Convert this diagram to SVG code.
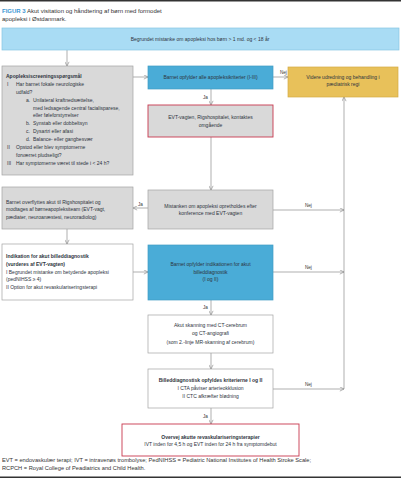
<svg xmlns="http://www.w3.org/2000/svg" width="401" height="480" viewBox="0 0 401 480">
<defs>
<marker id="ah" viewBox="0 0 6 6" refX="5.5" refY="3" markerWidth="5" markerHeight="5" orient="auto" markerUnits="userSpaceOnUse">
<path d="M0.5,0.5 L5.5,3 L0.5,5.5" fill="none" stroke="#8c8c8c" stroke-width="0.8"/>
</marker>
<style>
text{font-family:"Liberation Sans",Arial,sans-serif;fill:#2e3440;}
.t{font-size:5px;}
.b{font-weight:bold;}
.m{text-anchor:middle;}
.cap{font-size:6px;fill:#333;}
.fn{font-size:5.7px;fill:#333;}
.grey{fill:#d9d9d9;stroke:#a3a3a3;stroke-width:0.7;}
.blue{fill:#4aacd7;stroke:#3f9cc4;stroke-width:0.7;}
.lblue{fill:#a9dcf4;stroke:#86c6e3;stroke-width:0.7;}
.yel{fill:#e8c15a;stroke:#d3ab45;stroke-width:0.7;}
.redg{fill:#d9d9d9;stroke:#c8384e;stroke-width:0.9;}
.redw{fill:#ffffff;stroke:#c8384e;stroke-width:0.9;}
.wht{fill:#ffffff;stroke:#a3a3a3;stroke-width:0.7;}
.c{fill:none;stroke:#8c8c8c;stroke-width:0.7;}
.a{marker-end:url(#ah);}
.lab{font-size:4.6px;fill:#333;}
</style>
</defs>
<rect x="0" y="0" width="401" height="480" fill="#ffffff"/>
<line x1="0" y1="0.8" x2="401" y2="0.8" stroke="#333" stroke-width="1.6"/>
<line x1="0" y1="477.2" x2="401" y2="477.2" stroke="#333" stroke-width="1.6"/>
<text class="cap" x="2" y="13"><tspan class="b" style="fill:#3a96d3">FIGUR 3</tspan> Akut visitation og håndtering af børn med formodet</text>
<text class="cap" x="2" y="21">apopleksi i Østdanmark.</text>

<g id="connectors">
<line class="c a" x1="67" y1="50" x2="67" y2="66"/>
<line class="c a" x1="133" y1="77" x2="148" y2="77"/>
<line class="c a" x1="273" y1="77" x2="288" y2="77"/>
<text class="lab" x="280" y="74">Nej</text>
<line class="c a" x1="211" y1="89" x2="211" y2="105"/>
<text class="lab" x="203" y="99">Ja</text>
<line class="c a" x1="211" y1="137" x2="211" y2="190"/>
<line class="c a" x1="148" y1="208" x2="133" y2="208"/>
<text class="lab" x="138" y="206">Ja</text>
<line class="c a" x1="273" y1="210" x2="344" y2="210"/>
<text class="lab" x="305" y="207">Nej</text>
<line class="c a" x1="67" y1="229" x2="67" y2="244"/>
<line class="c a" x1="133" y1="272" x2="148" y2="272"/>
<line class="c a" x1="273" y1="272" x2="344" y2="272"/>
<text class="lab" x="305" y="269">Nej</text>
<line class="c a" x1="211" y1="300" x2="211" y2="315"/>
<text class="lab" x="203" y="309">Ja</text>
<line class="c a" x1="211" y1="353" x2="211" y2="369"/>
<line class="c a" x1="273" y1="389" x2="344" y2="389"/>
<text class="lab" x="305" y="386">Nej</text>
<line class="c a" x1="344" y1="389" x2="344" y2="97"/>
<line class="c a" x1="211" y1="408" x2="211" y2="424"/>
<text class="lab" x="203" y="418">Ja</text>
</g>

<g id="start">
<rect class="lblue" x="2" y="28" width="397" height="22"/>
<text class="t m" x="200" y="40.8">Begrundet mistanke om apopleksi hos børn &gt; 1 md. og &lt; 18 år</text>
</g>

<g id="screening">
<rect class="grey" x="2" y="66" width="131" height="109"/>
<text class="t b" x="6" y="77.8">Apopleksiscreeningsspørgsmål</text>
<text class="t" x="7" y="86">I</text><text class="t" x="16" y="86">Har barnet fokale neurologiske</text>
<text class="t" x="16" y="94">udfald?</text>
<text class="t" x="26" y="101.8">a.</text><text class="t" x="33" y="101.8">Unilateral kraftnedsættelse,</text>
<text class="t" x="33" y="109.5">med ledsagende central facialisparese,</text>
<text class="t" x="33" y="117">eller føleforstyrrelser</text>
<text class="t" x="26" y="125">b.</text><text class="t" x="33" y="125">Synstab eller dobbeltsyn</text>
<text class="t" x="26" y="133">c.</text><text class="t" x="33" y="133">Dysartri eller afasi</text>
<text class="t" x="26" y="141">d.</text><text class="t" x="33" y="141">Balance- eller gangbesvær</text>
<text class="t" x="7" y="149">II</text><text class="t" x="16" y="149">Opstod eller blev symptomerne</text>
<text class="t" x="16" y="157">forværret pludseligt?</text>
<text class="t" x="7" y="164.5">III</text><text class="t" x="16" y="164.5">Har symptomerne været til stede i &lt; 24 h?</text>
</g>

<g id="criteria">
<rect class="blue" x="148" y="66" width="125" height="23"/>
<text class="t m" x="210.5" y="79.3">Barnet opfylder alle apopleksikriterier (I-III)</text>
</g>

<g id="further">
<rect class="yel" x="288" y="67" width="110" height="30"/>
<text class="t m" x="343" y="79">Videre udredning og behandling i</text>
<text class="t m" x="343" y="86">pædiatrisk regi</text>
</g>

<g id="evt">
<rect class="redg" x="148" y="105" width="125" height="32"/>
<text class="t m" x="210.5" y="119">EVT-vagten, Rigshospitalet, kontaktes</text>
<text class="t m" x="210.5" y="126.5">omgående</text>
</g>

<g id="suspicion">
<rect class="grey" x="148" y="190" width="125" height="39"/>
<text class="t m" x="210.5" y="207.8">Mistanken om apopleksi opretholdes efter</text>
<text class="t m" x="210.5" y="215">konference med EVT-vagten</text>
</g>

<g id="transfer">
<rect class="grey" x="2" y="187" width="131" height="42"/>
<text class="t" x="6" y="203.8">Barnet overflyttes akut til Rigshospitalet og</text>
<text class="t" x="6" y="211">modtages af børneapopleksiteam (EVT-vagt,</text>
<text class="t" x="6" y="218.8">pædiater, neuroanæstesi, neuroradiolog)</text>
</g>

<g id="indication">
<rect class="wht" x="2" y="244" width="131" height="56"/>
<text class="t b" x="6" y="257.8">Indikation for akut billeddiagnostik</text>
<text class="t b" x="6" y="265.8">(vurderes af EVT-vagten)</text>
<text class="t" x="6" y="274">I Begrundet mistanke om betydende apopleksi</text>
<text class="t" x="6" y="281">(pedNIHSS ≥ 4)</text>
<text class="t" x="6" y="288.8">II Option for akut revaskulariseringsterapi</text>
</g>

<g id="meets">
<rect class="blue" x="148" y="245" width="125" height="55"/>
<text class="t m" x="210.5" y="265.8">Barnet opfylder indikationen for akut</text>
<text class="t m" x="210.5" y="273.5">billeddiagnostik</text>
<text class="t m" x="210.5" y="281.3">(I og II)</text>
</g>

<g id="scan">
<rect class="wht" x="148" y="315" width="125" height="38"/>
<text class="t m" x="210.5" y="326.8">Akut skanning med CT-cerebrum</text>
<text class="t m" x="210.5" y="334.8">og CT-angiografi</text>
<text class="t m" x="210.5" y="343.5">(som 2.-linje MR-skanning af cerebrum)</text>
</g>

<g id="imaging">
<rect class="wht" x="148" y="369" width="125" height="39"/>
<text class="t m b" x="210.5" y="381.8">Billeddiagnostisk opfyldes kriterierne I og II</text>
<text class="t m" x="210.5" y="389.8">I CTA påviser arterieokklusion</text>
<text class="t m" x="210.5" y="397.8">II CTC afkræfter blødning</text>
</g>

<g id="therapy">
<rect class="redw" x="122" y="424" width="177" height="32"/>
<text class="t m b" x="210.5" y="438.8">Overvej akutte revaskulariseringsterapier</text>
<text class="t m" x="210.5" y="446">IVT inden for 4,5 h og EVT inden for 24 h fra symptomdebut</text>
</g>

<text class="fn" x="2" y="462">EVT = endovaskulær terapi; IVT = intravenøs trombolyse; PedNIHSS = Pediatric National Institutes of Health Stroke Scale;</text>
<text class="fn" x="2" y="469.5">RCPCH = Royal College of Peadiatrics and Child Health.</text>
</svg>
